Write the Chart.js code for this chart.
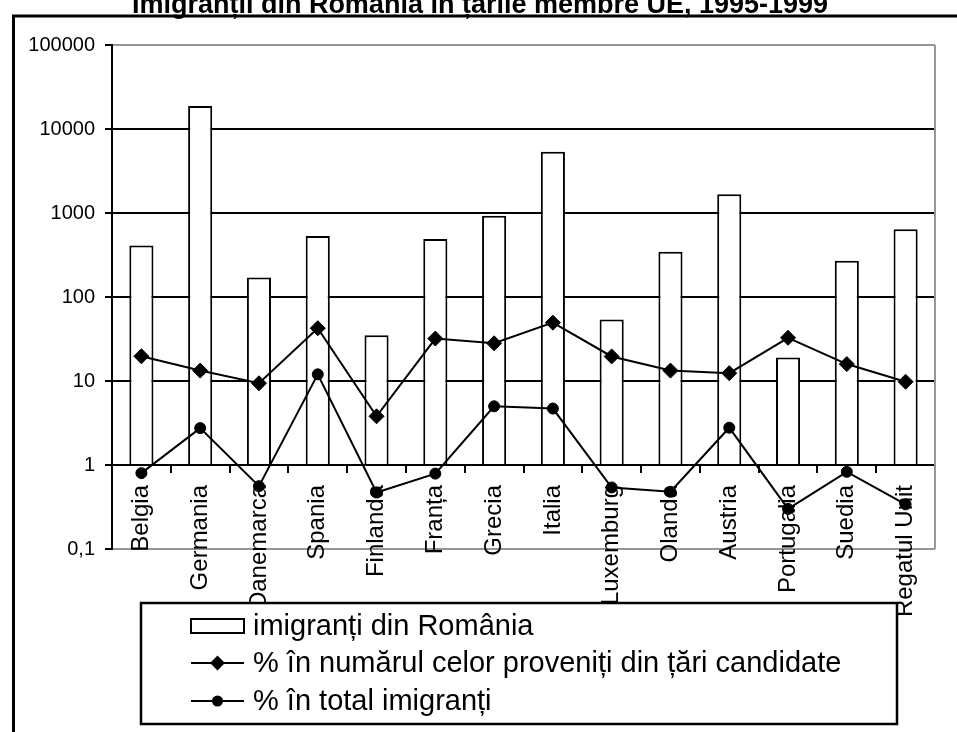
<!DOCTYPE html>
<html>
<head>
<meta charset="utf-8">
<script src="https://cdn.jsdelivr.net/npm/chart.js@4.4.1/dist/chart.umd.min.js"></script>
<style>
  html, body { margin: 0; padding: 0; background: #fff; overflow: hidden; }
  #grafic { position: absolute; left: 0; top: -14px; }
</style>
</head>
<body>
<canvas id="grafic" width="957" height="746"></canvas>
<script>
var tari = ['Belgia', 'Germania', 'Danemarca', 'Spania', 'Finlanda', 'Franța', 'Grecia', 'Italia',
  'Luxemburg', 'Olanda', 'Austria', 'Portugalia', 'Suedia', 'Regatul Unit']

var imigranti = [410, 18800, 171, 532, 35, 490, 930, 5370, 54, 346, 1670, 19, 271, 640]
var procentCandidate = [19.7, 13.3, 9.4, 42.5, 3.8, 32, 28.1, 49.5, 19.6, 13.3, 12.4, 32.7, 15.9, 9.8]
var procentTotal = [0.8, 2.75, 0.56, 12, 0.47, 0.79, 5.0, 4.7, 0.54, 0.48, 2.78, 0.3, 0.83, 0.34]

var yTickValues = [0.1, 1, 10, 100, 1000, 10000, 100000]
var yTickLabels = ['0,1', '1', '10', '100', '1000', '10000', '100000']

var titlu = 'Imigranții din România în țările membre UE, 1995-1999'
var etichete = ['imigranți din România', '% în numărul celor proveniți din țări candidate', '% în total imigranți']

var font = '"Liberation Sans", Arial, sans-serif'
var gri = '#969696'

// rama exterioara, titlul si fundal alb
var ramaPlugin = {
  id: 'rama',
  beforeDraw: function(chart) {
    var ctx = chart.ctx
    ctx.save()
    ctx.fillStyle = '#fff'
    ctx.fillRect(0, 0, chart.width, chart.height)
    ctx.strokeStyle = '#000'
    ctx.lineWidth = 3
    ctx.strokeRect(13.5, 30, 1000, 800)
    ctx.fillStyle = '#000'
    ctx.font = 'bold 27px ' + font
    ctx.textAlign = 'center'
    ctx.textBaseline = 'alphabetic'
    ctx.fillText(titlu, 480, 27)
    ctx.restore()
  },
  beforeDatasetsDraw: function(chart) {
    var a = chart.chartArea
    var ctx = chart.ctx
    ctx.save()
    ctx.strokeStyle = gri
    ctx.lineWidth = 2
    ctx.beginPath()
    ctx.moveTo(a.right, a.top)
    ctx.lineTo(a.right, a.bottom)
    ctx.stroke()
    ctx.restore()
  }
}

// legenda desenata intr-o caseta, peste etichetele axei
var legendaPlugin = {
  id: 'legenda',
  afterDraw: function(chart) {
    var ctx = chart.ctx
    var x0 = 141, y0 = 617, w = 756, h = 121
    ctx.save()
    ctx.fillStyle = '#fff'
    ctx.fillRect(x0, y0, w, h)
    ctx.strokeStyle = '#000'
    ctx.lineWidth = 2.5
    ctx.strokeRect(x0, y0, w, h)

    var rows = [640, 677, 715]
    var sx1 = 191, sx2 = 244, tx = 253
    ctx.font = '29px ' + font
    ctx.textBaseline = 'middle'
    ctx.fillStyle = '#000'
    chart.data.datasets.forEach(function(ds, i) {
      var y = rows[i]
      ctx.strokeStyle = '#000'
      ctx.lineWidth = 2
      if (ds.type === 'bar') {
        ctx.fillStyle = '#fff'
        ctx.fillRect(sx1, y - 7, sx2 - sx1, 14)
        ctx.strokeRect(sx1, y - 7, sx2 - sx1, 14)
      } else {
        ctx.beginPath()
        ctx.moveTo(sx1, y)
        ctx.lineTo(sx2, y)
        ctx.stroke()
        Chart.helpers.drawPoint(ctx, {pointStyle: ds.pointStyle, radius: ds.pointStyle === 'rectRot' ? 6 : 4.5, borderWidth: 1}, (sx1 + sx2) / 2, y)
        ctx.fillStyle = '#000'
        ctx.fill()
      }
      ctx.fillStyle = '#000'
      ctx.fillText(etichete[i], tx, y + 1)
    })
    ctx.restore()
  }
}

var grafic = new Chart(document.getElementById('grafic'), {
  type: 'bar',
  data: {
    labels: tari,
    datasets: [{
      type: 'bar',
      label: etichete[0],
      data: imigranti,
      base: 1,
      backgroundColor: '#fff',
      borderColor: '#000',
      borderWidth: 2,
      barPercentage: 0.41,
      categoryPercentage: 1,
      order: 3
    }, {
      type: 'line',
      label: etichete[1],
      data: procentCandidate,
      borderColor: '#000',
      backgroundColor: '#000',
      borderWidth: 2,
      pointStyle: 'rectRot',
      pointRadius: 7.5,
      pointBorderWidth: 1,
      order: 1
    }, {
      type: 'line',
      label: etichete[2],
      data: procentTotal,
      borderColor: '#000',
      backgroundColor: '#000',
      borderWidth: 2,
      pointStyle: 'circle',
      pointRadius: 5.5,
      pointBorderWidth: 1,
      order: 2
    }]
  },
  options: {
    responsive: false,
    animation: false,
    layout: { padding: { left: 0, right: 22, top: 59, bottom: 183 } },
    plugins: {
      legend: { display: false },
      tooltip: { enabled: false },
      title: { display: false }
    },
    scales: {
      x: {
        position: { y: 1 },
        offset: true,
        ticks: {
          minRotation: 90,
          maxRotation: 90,
          autoSkip: false,
          color: '#000',
          padding: 13,
          font: { family: font, size: 24 }
        },
        grid: { drawOnChartArea: false, offset: true, color: '#000', lineWidth: 2, tickLength: 7 },
        border: { color: '#000', width: 2 }
      },
      y: {
        type: 'logarithmic',
        min: 0.1,
        max: 100000,
        afterBuildTicks: function(s) {
          s.ticks = yTickValues.map(function(v) { return { value: v } })
        },
        afterFit: function(s) { s.width = 112 },
        ticks: {
          autoSkip: false,
          color: '#000',
          padding: 10,
          font: { family: font, size: 20 },
          callback: function(v, i) { return yTickLabels[i] }
        },
        grid: {
          color: function(c) {
            if (c.tick && (c.tick.value === 0.1 || c.tick.value === 100000)) return gri
            return '#000'
          },
          tickColor: '#000',
          lineWidth: 2,
          tickLength: 7
        },
        border: { color: '#000', width: 2 }
      }
    }
  },
  plugins: [ramaPlugin, legendaPlugin]
})
</script>
</body>
</html>
